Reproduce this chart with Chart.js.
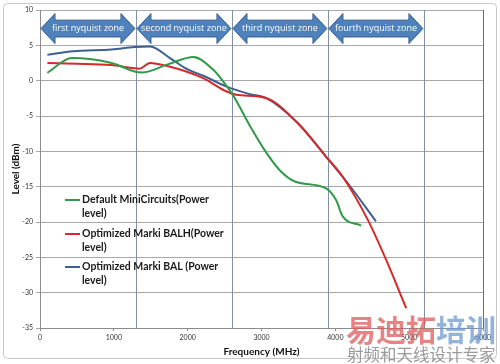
<!DOCTYPE html>
<html>
<head>
<meta charset="utf-8">
<script src="https://cdn.jsdelivr.net/npm/chart.js@4.4.1/dist/chart.umd.min.js"></script>
<style>
html,body{margin:0;padding:0;background:#fff;}
#wrap{width:500px;height:364px;position:relative;}
</style>
</head>
<body>
<div id="wrap"><canvas id="c" width="500" height="364"></canvas></div>
<script>
// ---- data ----
const seriesNames = ['Default MiniCircuits(Power level)', 'Optimized Marki BALH(Power level)', 'Optimized Marki BAL (Power level)'];
const greenFreq  = [100, 430, 970, 1280, 1380, 1730, 2080, 2340, 2480, 2610, 2860, 3040, 3240, 3460, 3870, 4010, 4100, 4350];
const greenLevel = [1.1, 3.2, 2.5, 1.3, 1.15, 2.3, 3.35, 1.6, -0.1, -2.0, -6.7, -9.8, -12.6, -14.3, -15.2, -16.9, -19.2, -20.5];
const redFreq    = [100, 500, 960, 1280, 1350, 1490, 1710, 2200, 2520, 2660, 3060, 3490, 3870, 4100, 4440, 4690, 4960];
const redLevel   = [2.5, 2.4, 2.2, 1.75, 1.7, 2.5, 2.1, 0.4, -1.5, -2.0, -2.45, -6.0, -10.7, -13.6, -19.7, -25.4, -32.2];
const blueFreq   = [100, 450, 970, 1280, 1490, 1760, 1980, 2210, 2520, 2840, 3060, 3490, 3870, 4190, 4550];
const blueLevel  = [3.65, 4.15, 4.4, 4.75, 4.85, 3.2, 1.7, 0.7, -0.8, -1.9, -2.45, -6.0, -10.7, -14.8, -19.9];
const xTicks = [0, 1000, 2000, 3000, 4000, 5000, 6000];
const yTicks = [10, 5, 0, -5, -10, -15, -20, -25, -30, -35];
const zoneBounds = [0, 1300, 2600, 3900, 5200];
const zoneLabels = ['first nyquist zone', 'second nyquist zone', 'third nyquist zone', 'fourth nyquist zone'];
const zoneArrowTop = 9.5, zoneArrowBottom = 5.25;
const colors = ['#2f9a47', '#d42a2a', '#3b6194'];

const pts = (xs, ys) => xs.map((x, i) => ({x: x, y: ys[i]}));

function arrow(ctx, x1, x2, yt, yb) {
  const ym = (yt + yb) / 2, h = yb - yt;
  const head = 14, bi = h * 0.22;
  ctx.beginPath();
  ctx.moveTo(x1, ym);
  ctx.lineTo(x1 + head, yt);
  ctx.lineTo(x1 + head, yt + bi);
  ctx.lineTo(x2 - head, yt + bi);
  ctx.lineTo(x2 - head, yt);
  ctx.lineTo(x2, ym);
  ctx.lineTo(x2 - head, yb);
  ctx.lineTo(x2 - head, yb - bi);
  ctx.lineTo(x1 + head, yb - bi);
  ctx.lineTo(x1 + head, yb);
  ctx.closePath();
  ctx.fillStyle = '#4f81bd';
  ctx.fill();
  ctx.strokeStyle = '#385d8a';
  ctx.lineWidth = 1;
  ctx.stroke();
}

const decor = {
  id: 'decor',
  beforeDraw(chart) {
    const ctx = chart.ctx;
    ctx.save();
    ctx.fillStyle = '#fff';
    ctx.fillRect(0, 0, chart.width, chart.height);
    ctx.strokeStyle = '#c8c8c8';
    ctx.lineWidth = 1;
    ctx.beginPath();
    if (ctx.roundRect) ctx.roundRect(3.5, 3.5, 493, 355, 4); else ctx.rect(3.5, 3.5, 493, 355);
    ctx.stroke();
    ctx.restore();
  },
  beforeDatasetsDraw(chart) {
    const ctx = chart.ctx, xs = chart.scales.x, ys = chart.scales.y, a = chart.chartArea;
    ctx.save();
    ctx.strokeStyle = '#7f8fa6';
    ctx.lineWidth = 1;
    zoneBounds.slice(1).forEach(f => {
      const px = Math.round(xs.getPixelForValue(f)) + 0.5;
      ctx.beginPath(); ctx.moveTo(px, a.top); ctx.lineTo(px, a.bottom); ctx.stroke();
    });
    ctx.strokeStyle = '#6e6e6e';
    ctx.beginPath(); ctx.moveTo(Math.round(a.right) + 0.5, a.top); ctx.lineTo(Math.round(a.right) + 0.5, a.bottom); ctx.stroke();
    // arrows
    const yt = ys.getPixelForValue(zoneArrowTop), yb = ys.getPixelForValue(zoneArrowBottom);
    for (let i = 0; i < zoneLabels.length; i++) {
      const x1 = xs.getPixelForValue(zoneBounds[i]) + 1;
      const x2 = xs.getPixelForValue(zoneBounds[i + 1]) - 1;
      arrow(ctx, x1, x2, yt, yb);
      ctx.fillStyle = '#ffffff';
      ctx.font = '9px "Open Sans", sans-serif';
      ctx.textAlign = 'center';
      ctx.textBaseline = 'middle';
      ctx.fillText(zoneLabels[i], (x1 + x2) / 2, (yt + yb) / 2);
    }
    ctx.restore();
  },
  afterDraw(chart) {
    const ctx = chart.ctx, a = chart.chartArea;
    ctx.save();
    // legend
    const lx = a.left + 25, rows = [200, 234, 267];
    const lines = [['Default MiniCircuits(Power', 'level)'], ['Optimized Marki BALH(Power', 'level)'], ['Optimized Marki BAL (Power', 'level)']];
    ctx.font = 'bold 10.5px Lato, sans-serif';
    ctx.textAlign = 'left';
    ctx.textBaseline = 'middle';
    rows.forEach((y, i) => {
      ctx.strokeStyle = colors[i];
      ctx.lineWidth = 2;
      ctx.beginPath(); ctx.moveTo(lx, y); ctx.lineTo(lx + 15, y); ctx.stroke();
      ctx.fillStyle = '#1a1a1a';
      ctx.fillText(lines[i][0], lx + 17, y);
      ctx.fillText(lines[i][1], lx + 17, y + 14);
    });
    // watermark
    ctx.globalAlpha = 0.75;
    ctx.font = 'bold 30px "Noto Sans CJK SC", sans-serif';
    ctx.textBaseline = 'alphabetic';
    ctx.fillStyle = '#e05a5a';
    ctx.fillText('易迪拓', 346, 341);
    const w = ctx.measureText('易迪拓').width;
    ctx.fillStyle = '#6f9ad0';
    ctx.fillText('培训', 346 + w, 341);
    ctx.globalAlpha = 0.85;
    ctx.font = '16.5px "Noto Sans CJK SC", sans-serif';
    ctx.fillStyle = '#8a8a8a';
    ctx.fillText('射频和天线设计专家', 347, 361);
    ctx.restore();
  }
};

new Chart(document.getElementById('c'), {
  type: 'scatter',
  data: {
    datasets: [
      {label: seriesNames[0], data: pts(greenFreq, greenLevel), borderColor: colors[0]},
      {label: seriesNames[1], data: pts(redFreq, redLevel), borderColor: colors[1]},
      {label: seriesNames[2], data: pts(blueFreq, blueLevel), borderColor: colors[2]}
    ].map(d => Object.assign(d, {showLine: true, borderWidth: 2, pointRadius: 0, cubicInterpolationMode: 'monotone', fill: false}))
  },
  options: {
    responsive: false,
    animation: false,
    layout: {padding: {left: 0, top: 10, right: 17, bottom: 0}},
    plugins: {legend: {display: false}, tooltip: {enabled: false}},
    scales: {
      x: {
        type: 'linear', min: 0, max: 6000,
        afterBuildTicks: s => { s.ticks = xTicks.map(v => ({value: v})); },
        afterFit: s => { s.height = 36; },
        grid: {drawOnChartArea: false, drawTicks: true, tickLength: 3, color: '#8c8c8c'},
        border: {color: '#8c8c8c'},
        ticks: {font: {family: 'Lato', size: 7}, color: '#333', padding: 3, maxRotation: 0, callback: v => String(v)},
        title: {display: true, text: 'Frequency (MHz)', font: {family: 'Lato', size: 10, weight: 'bold'}, color: '#111', padding: {top: 2, bottom: 6}}
      },
      y: {
        min: -35, max: 10,
        afterBuildTicks: s => { s.ticks = yTicks.map(v => ({value: v})); },
        afterFit: s => { s.width = 40; },
        grid: {color: '#a8a8a8', tickLength: 4},
        border: {color: '#8c8c8c'},
        ticks: {font: {family: 'Lato', size: 7}, color: '#333', padding: 3, callback: v => String(v)},
        title: {display: true, text: 'Level (dBm)', font: {family: 'Lato', size: 10, weight: 'bold'}, color: '#111', padding: {top: 10, bottom: 0}}
      }
    }
  },
  plugins: [decor]
});
</script>
</body>
</html>
